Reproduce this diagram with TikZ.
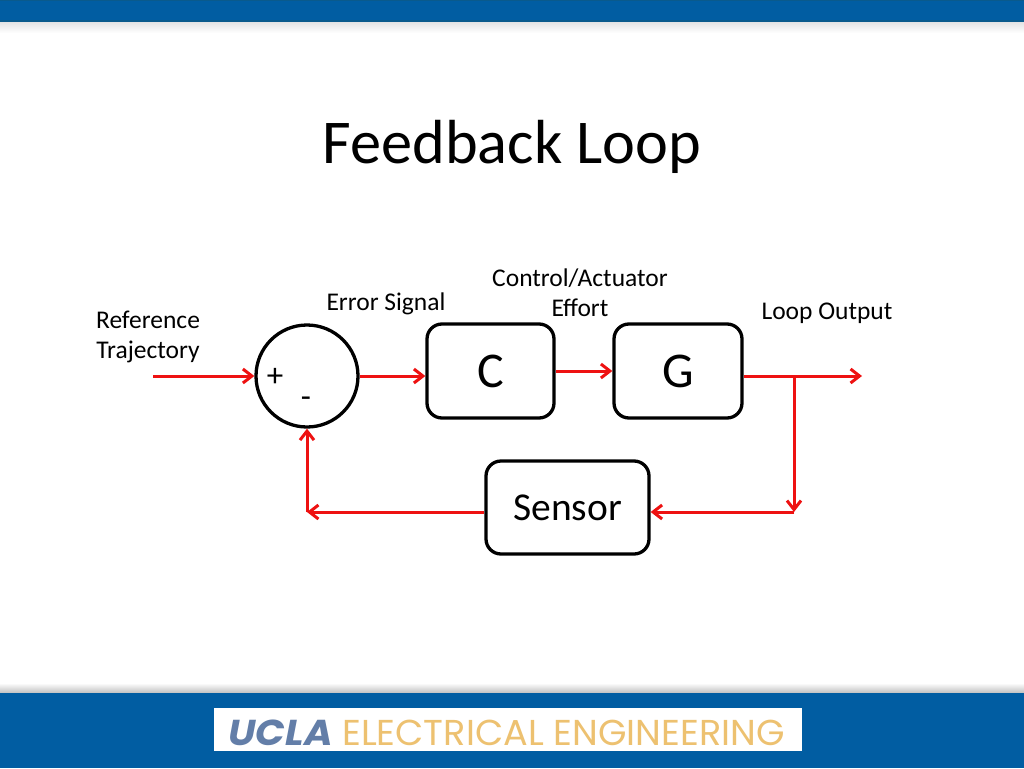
\documentclass[tikz,border=0pt]{standalone}
\usepackage{fontspec}
\setmainfont{Carlito}
\newfontfamily\logofont{Poppins}
\usetikzlibrary{arrows.meta}
\definecolor{barblue}{HTML}{015DA2}
\definecolor{bardark}{HTML}{0A5A8C}
\definecolor{sigred}{HTML}{EE1111}
\definecolor{logoblue}{HTML}{637EA8}
\definecolor{logogold}{HTML}{EDC170}
\tikzset{
  x=1pt,y=-1pt,
  block/.style={draw=black,line width=3.3pt,rounded corners=15pt,fill=white,inner sep=0pt},
  sumnode/.style={draw=black,line width=3.3pt,circle,fill=white,inner sep=0pt,minimum size=102pt},
  signal/.style={draw=sigred,line width=3pt,-{Straight Barb[length=9pt,width=14pt,line width=3pt]}},
  lab/.style={font=\fontsize{25.5}{30}\selectfont,align=center,inner sep=0pt},
  big/.style={font=\fontsize{50}{52}\selectfont,inner sep=0pt},
}
\begin{document}
\begin{tikzpicture}
\useasboundingbox (0,0) rectangle (1024,768);
\fill[white] (0,0) rectangle (1024,768);
% top bar
\shade[top color=black!12,bottom color=white] (0,21) rectangle (1024,33);
\fill[barblue] (0,0) rectangle (1024,21);
\fill[bardark] (0,0) rectangle (1024,1);
\fill[bardark] (0,20.5) rectangle (1024,22);
% bottom bar
\shade[top color=white,bottom color=black!25] (0,683) rectangle (1024,693);
\fill[barblue] (0,693) rectangle (1024,768);
\fill[white] (214,708) rectangle (802,751);
\node[inner sep=0pt,anchor=base east,text=logoblue,font=\logofont\bfseries\itshape\fontsize{36}{36}\selectfont,xscale=1.08] (ucla) at (333,745) {UCLA};
\node[inner sep=0pt,anchor=base west,text=logogold,font=\logofont\fontsize{36}{36}\selectfont,xscale=1.018] (ee) at (342,745) {ELECTRICAL ENGINEERING};
% title
\node[inner sep=0pt,font=\fontsize{62.3}{64}\selectfont] (title) at (512,147) {Feedback Loop};
% nodes
\node[sumnode] (sum) at (307,376) {};
\node[inner sep=0pt,font=\fontsize{33}{33}\selectfont] (plus) at (275,377) {+};
\node[inner sep=0pt,font=\fontsize{33}{33}\selectfont] (minus) at (306,402) {-};
\node[block,minimum width=127pt,minimum height=94pt,big] (C) at (490.5,371) {\raisebox{-1.5pt}{C}};
\node[block,minimum width=128pt,minimum height=94pt,big] (G) at (678,371) {\raisebox{-1.5pt}{G}};
\node[block,minimum width=163pt,minimum height=93pt,font=\fontsize{39.5}{42}\selectfont] (S) at (567.5,507.5) {\raisebox{-1.5pt}{Sensor}};
% labels
\node[lab] (l1) at (148,336.5) {Reference\\[0pt]Trajectory};
\node[lab] (l2) at (386,304) {Error Signal};
\node[lab] (l3) at (580,292.5) {Control/Actuator\\[0pt]Effort};
\node[lab] (l4) at (827,313) {Loop Output};
% free ends
\coordinate (in) at (153,376);
\coordinate (out) at (862,376);
\coordinate (tap) at (794,376);
\coordinate (fbr) at (794,512);
\coordinate (fbl) at (307,512);
% connectors
\draw[signal] (in) -- (sum.west);
\draw[signal] (sum.east) -- (C.west |- sum.east);
\draw[signal] (C.east) -- (G.west);
\draw[signal] (G.east |- out) -- (out);
\draw[signal] (tap) -- (fbr);
\draw[signal] (fbr) -- (S.east |- fbr);
\draw[signal] (S.west |- fbl) -- (fbl);
\draw[signal] (fbl) -- (sum.south);
\end{tikzpicture}
\end{document}
